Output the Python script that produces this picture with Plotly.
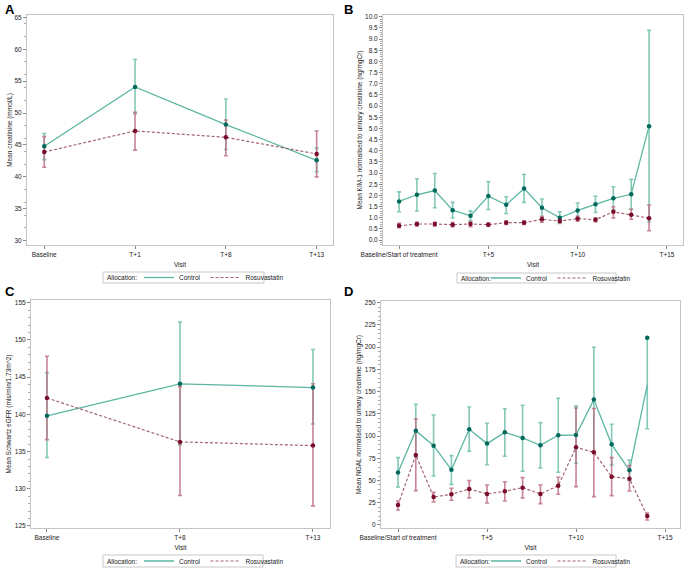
import plotly.graph_objects as go

# ---------------- Data ----------------
# Panel A: creatinine
a_labels = ["Baseline", "T+1", "T+8", "T+13"]
a_ctrl = [44.8, 54.1, 48.2, 42.6]
a_ctrl_lo = [42.7, 49.9, 44.3, 40.8]
a_ctrl_hi = [46.8, 58.4, 52.2, 44.5]
a_rosu = [43.9, 47.2, 46.2, 43.6]
a_rosu_lo = [41.5, 44.2, 43.3, 40.0]
a_rosu_hi = [46.3, 50.1, 48.9, 47.2]

# Panel B: KIM-1
b_visits = list(range(15))
b_tickvals = [0, 5, 10, 15]
b_ticktext = ["Baseline/Start of treatment", "T+5", "T+10", "T+15"]
b_ctrl = [1.73, 2.03, 2.22, 1.34, 1.09, 1.97, 1.58, 2.31, 1.45, 1.00, 1.33, 1.60, 1.87, 2.05, 5.10]
b_ctrl_lo = [1.27, 1.30, 1.45, 0.99, 0.87, 1.37, 1.19, 1.69, 1.05, 0.75, 1.00, 1.24, 1.35, 1.38, 0.82]
b_ctrl_hi = [2.16, 2.75, 2.98, 1.69, 1.31, 2.61, 1.94, 2.94, 1.84, 1.27, 1.66, 1.96, 2.39, 2.72, 9.39]
b_rosu = [0.64, 0.72, 0.72, 0.69, 0.72, 0.69, 0.78, 0.78, 0.93, 0.85, 0.96, 0.91, 1.27, 1.13, 0.98]
b_rosu_lo = [0.55, 0.62, 0.62, 0.60, 0.60, 0.62, 0.70, 0.70, 0.80, 0.78, 0.85, 0.82, 0.99, 0.93, 0.42]
b_rosu_hi = [0.75, 0.80, 0.80, 0.79, 0.82, 0.77, 0.86, 0.86, 1.05, 0.92, 1.07, 1.00, 1.49, 1.38, 1.57]

# Panel C: eGFR
c_labels = ["Baseline", "T+8", "T+13"]
c_ctrl = [139.8, 144.1, 143.6]
c_ctrl_lo = [134.2, 135.9, 138.7]
c_ctrl_hi = [145.6, 152.4, 148.7]
c_rosu = [142.2, 136.3, 135.8]
c_rosu_lo = [136.6, 129.1, 127.7]
c_rosu_hi = [147.8, 143.7, 144.1]

# Panel D: NGAL
d_visits = list(range(15))
d_ctrl = [58.9, 106.1, 89.2, 62.2, 107.6, 91.5, 104.2, 97.9, 89.6, 100.9, 101.2, 141.0, 90.7, 61.5, 157.5]
d_ctrl_marker = [58.9, 106.1, 89.2, 62.2, 107.6, 91.5, 104.2, 97.9, 89.6, 100.9, 101.2, 141.0, 90.7, 61.5, 210.7]
d_ctrl_lo = [42.7, 76.5, 55.1, 45.7, 82.9, 67.9, 77.3, 60.4, 64.1, 59.3, 69.4, 82.0, 67.5, 50.0, 108.3]
d_ctrl_hi = [75.7, 135.7, 123.7, 78.0, 132.7, 114.4, 130.8, 134.6, 115.1, 142.5, 133.9, 199.9, 113.3, 73.1, 210.7]
d_rosu = [22.5, 78.7, 31.5, 34.5, 40.5, 34.9, 37.9, 42.0, 34.9, 44.2, 87.4, 81.8, 54.3, 52.1, 10.1]
d_rosu_lo = [16.9, 38.6, 25.9, 27.8, 30.4, 24.7, 27.0, 30.4, 24.0, 34.5, 43.1, 31.9, 33.0, 38.2, 5.6]
d_rosu_hi = [27.0, 119.2, 36.7, 41.3, 49.9, 45.0, 48.7, 53.2, 45.0, 53.6, 131.6, 131.0, 75.7, 66.7, 13.5]

legend_title = "Allocation:"
series_names = ["Control", "Rosuvastatin"]

# ---------------- Styles ----------------
CTRL_LINE = "#5db6a3"
CTRL_MARK = "#00695c"
CTRL_ERR = "rgba(110,190,172,0.85)"
ROSU_LINE = "#a3646f"
ROSU_MARK = "#7a0c2c"
ROSU_ERR = "rgba(190,110,130,0.85)"
FONT = "Liberation Sans, Arial, sans-serif"
FS = 6.5

W, H = 685, 568

fig = go.Figure()

panels = [
    dict(xa="x", ya="y", leg="legend", x=list(range(len(a_labels))),
         ctrl=a_ctrl, ctrl_m=a_ctrl, clo=a_ctrl_lo, chi=a_ctrl_hi,
         rosu=a_rosu, rlo=a_rosu_lo, rhi=a_rosu_hi),
    dict(xa="x2", ya="y2", leg="legend2", x=b_visits,
         ctrl=b_ctrl, ctrl_m=b_ctrl, clo=b_ctrl_lo, chi=b_ctrl_hi,
         rosu=b_rosu, rlo=b_rosu_lo, rhi=b_rosu_hi),
    dict(xa="x3", ya="y3", leg="legend3", x=list(range(len(c_labels))),
         ctrl=c_ctrl, ctrl_m=c_ctrl, clo=c_ctrl_lo, chi=c_ctrl_hi,
         rosu=c_rosu, rlo=c_rosu_lo, rhi=c_rosu_hi),
    dict(xa="x4", ya="y4", leg="legend4", x=d_visits,
         ctrl=d_ctrl, ctrl_m=d_ctrl_marker, clo=d_ctrl_lo, chi=d_ctrl_hi,
         rosu=d_rosu, rlo=d_rosu_lo, rhi=d_rosu_hi),
]

for p in panels:
    x = p["x"]
    fig.add_trace(go.Scatter(
        x=x, y=p["ctrl"], mode="lines", xaxis=p["xa"], yaxis=p["ya"],
        line=dict(color=CTRL_LINE, width=1.3), showlegend=False, hoverinfo="skip",
        error_y=dict(type="data", symmetric=False,
                     array=[h - m for h, m in zip(p["chi"], p["ctrl"])],
                     arrayminus=[m - l for m, l in zip(p["ctrl"], p["clo"])],
                     color=CTRL_ERR, thickness=1.6, width=2)))
    fig.add_trace(go.Scatter(
        x=x, y=p["rosu"], mode="lines", xaxis=p["xa"], yaxis=p["ya"],
        line=dict(color=ROSU_LINE, width=1.2, dash="3px,2px"), showlegend=False, hoverinfo="skip",
        error_y=dict(type="data", symmetric=False,
                     array=[h - m for h, m in zip(p["rhi"], p["rosu"])],
                     arrayminus=[m - l for m, l in zip(p["rosu"], p["rlo"])],
                     color=ROSU_ERR, thickness=1.6, width=2)))
    fig.add_trace(go.Scatter(
        x=x, y=p["ctrl_m"], mode="markers", xaxis=p["xa"], yaxis=p["ya"],
        marker=dict(color=CTRL_MARK, size=4.5), showlegend=False))
    fig.add_trace(go.Scatter(
        x=x, y=p["rosu"], mode="markers", xaxis=p["xa"], yaxis=p["ya"],
        marker=dict(color=ROSU_MARK, size=4.5), showlegend=False))
    fig.add_trace(go.Scatter(
        x=[None], y=[None], mode="lines", name=series_names[0], legend=p["leg"],
        xaxis=p["xa"], yaxis=p["ya"], line=dict(color=CTRL_LINE, width=1.3)))
    fig.add_trace(go.Scatter(
        x=[None], y=[None], mode="lines", name=series_names[1], legend=p["leg"],
        xaxis=p["xa"], yaxis=p["ya"], line=dict(color=ROSU_LINE, width=1.2, dash="3px,2px")))


def dx(a, b):
    return [a / W, b / W]


def dy(top, bottom):
    return [1 - bottom / H, 1 - top / H]


axis_common = dict(showline=True, mirror=True, linecolor="#c4c4c4", linewidth=1,
                   showgrid=False, zeroline=False, ticks="outside", ticklen=3,
                   tickcolor="#888", automargin=False,
                   tickfont=dict(size=FS, color="#222", family=FONT),
                   title_font=dict(size=FS, color="#222", family=FONT))
yminor = dict(minor=dict(ticks="outside", ticklen=2, tickcolor="#aaa", nticks=5))

fig.update_layout(
    width=W, height=H, margin=dict(l=0, r=0, t=0, b=0, autoexpand=False),
    paper_bgcolor="white", plot_bgcolor="white",
    font=dict(family=FONT, size=FS, color="#222"),
    xaxis=dict(domain=dx(27, 333), range=[-0.19, 3.18],
               tickvals=list(range(len(a_labels))), ticktext=a_labels,
               title=dict(text="Visit", standoff=5), anchor="y", **axis_common),
    yaxis=dict(domain=dy(15, 245), range=[29.33, 65.36], tickvals=[30, 35, 40, 45, 50, 55, 60, 65],
               title=dict(text="Mean creatinine (mmol/L)", standoff=1), anchor="x",
               **axis_common, **yminor),
    xaxis2=dict(domain=dx(383, 683), range=[-0.9, 15.9],
                tickvals=b_tickvals, ticktext=b_ticktext,
                title=dict(text="Visit", standoff=5), anchor="y2", **axis_common),
    yaxis2=dict(domain=dy(15, 245), range=[-0.22, 10.08], dtick=0.5, tickformat=".1f",
                title=dict(text="Mean KIM-1 normalised to urinary creatinine (ng/mgCr)", standoff=1),
                anchor="x2", **axis_common, **yminor),
    xaxis3=dict(domain=dx(31, 330), range=[-0.12, 2.128],
                tickvals=list(range(len(c_labels))), ticktext=c_labels,
                title=dict(text="Visit", standoff=5), anchor="y3", **axis_common),
    yaxis3=dict(domain=dy(300, 528), range=[124.73, 155.36], dtick=5,
                title=dict(text="Mean Schwartz eGFR (mls/min/1.73m^2)", standoff=2),
                anchor="x3", **axis_common, **yminor),
    xaxis4=dict(domain=dx(381, 680), range=[-0.955, 15.84],
                tickvals=b_tickvals, ticktext=b_ticktext,
                title=dict(text="Visit", standoff=5), anchor="y4", **axis_common),
    yaxis4=dict(domain=dy(301, 528), range=[-3.4, 251.9], dtick=25,
                title=dict(text="Mean NGAL normalised to urinary creatinine (ng/mgCr)", standoff=2),
                anchor="x4", **axis_common, **yminor),
)

# legend boxes: (box left, box right, box top, box bottom, control-line start)
legend_boxes = [
    ("legend", 103, 264, 272, 283, 145),
    ("legend2", 457, 616, 273, 283, 492),
    ("legend3", 103, 263, 555, 567, 145),
    ("legend4", 456, 616, 555, 567, 492),
]
for leg, bl, br, bt, bb, cstart in legend_boxes:
    fig.add_shape(type="rect", xref="paper", yref="paper",
                  x0=bl / W, x1=br / W, y0=1 - bb / H, y1=1 - bt / H,
                  line=dict(color="#c8c8c8", width=1), fillcolor="rgba(0,0,0,0)")
    fig.add_annotation(text=legend_title, xref="paper", yref="paper",
                       x=(bl + 2) / W, y=1 - (bt + bb) / 2 / H, xanchor="left", yanchor="middle",
                       showarrow=False, font=dict(size=FS, family=FONT, color="#222"))
    fig.layout[leg] = dict(orientation="h", xanchor="left", yanchor="middle",
                           x=(cstart - 6) / W, y=1 - (bt + bb) / 2 / H,
                           bgcolor="rgba(0,0,0,0)", borderwidth=0,
                           font=dict(size=FS, family=FONT, color="#222"),
                           itemwidth=30, tracegroupgap=0)

for letter, px, py in [("A", 3, 9), ("B", 342, 9), ("C", 3, 291), ("D", 342, 291)]:
    fig.add_annotation(text=f"<b>{letter}</b>", x=px / W, y=1 - py / H, xref="paper", yref="paper",
                       xanchor="left", yanchor="middle", showarrow=False,
                       font=dict(size=13, family=FONT, color="black"))

fig.write_html("out.html", config={"displayModeBar": False},
               post_script="document.body.style.margin='0';document.body.style.overflow='hidden';")
